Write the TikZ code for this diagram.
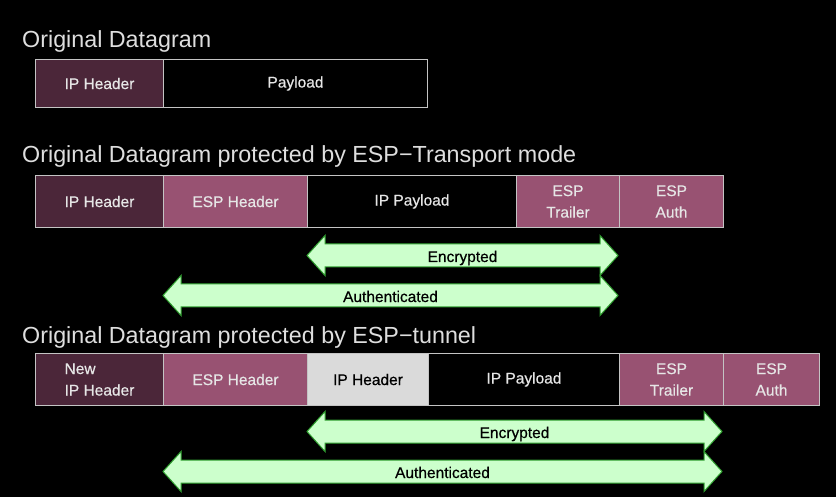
\documentclass[tikz,border=0pt]{standalone}
\usepackage{fontspec}
\setmainfont{Liberation Sans}
\newfontfamily\medfont{Liberation Sans}[FakeBold=0.5]
\definecolor{bgdark}{HTML}{4B2639}
\definecolor{bgpink}{HTML}{985272}
\definecolor{bggray}{HTML}{DADADA}
\definecolor{frame}{HTML}{C4C4C4}
\definecolor{txtl}{HTML}{E6E6E6}
\definecolor{ttl}{HTML}{DEDEDE}
\definecolor{arrfill}{HTML}{CCFFCC}
\definecolor{arrdraw}{HTML}{2E9E2E}
\tikzset{
  field/.style={draw=frame, line width=1pt, inner sep=0pt, anchor=north west, align=center,
    font=\medfont\fontsize{15.5}{21.5}\selectfont, text=txtl},
  ttlnode/.style={anchor=base west, inner sep=0pt, font=\fontsize{23.3}{28}\selectfont, text=ttl},
  arr/.style={fill=arrfill, draw=arrdraw, line width=1pt, line join=miter},
  albl/.style={inner sep=0pt, anchor=base, font=\medfont\fontsize{15.5}{18}\selectfont, text=black},
}
\newcommand\dblarr[5]{%
  \draw[arr] (#1,#3) -- (#1+18,#3-20) -- (#1+18,#3-11.5) -- (#2-18,#3-11.5) -- (#2-18,#3-20) -- (#2,#3)
    -- (#2-18,#3+20) -- (#2-18,#3+11.5) -- (#1+18,#3+11.5) -- (#1+18,#3+20) -- cycle;
  \node[albl] (#4) at ({(#1+#2)/2},#3+6.5) {#5};}
\begin{document}
\begin{tikzpicture}[x=1pt,y=-1pt]
\fill[black] (0,0) rectangle (836,497);
\useasboundingbox (0,0) rectangle (836,497);
% Row 1
\node[ttlnode] (t1) at (22,48) {Original Datagram};
\node[field, fill=bgdark, minimum width=128pt, minimum height=48pt] (r1ip) at (35,59) {IP Header};
\node[field, fill=black, minimum width=264pt, minimum height=48pt] (r1pl) at (163,59) {Payload};
% Row 2
\node[ttlnode] (t2) at (22,163) {Original Datagram protected by ESP\textminus Transport mode};
\node[field, fill=bgdark, minimum width=128pt, minimum height=52pt] (r2ip) at (35,175) {IP Header};
\node[field, fill=bgpink, minimum width=144pt, minimum height=52pt] (r2esp) at (163,175) {ESP Header};
\node[field, fill=black, minimum width=209pt, minimum height=52pt] (r2pl) at (307,175) {IP Payload};
\node[field, fill=bgpink, minimum width=103pt, minimum height=52pt] (r2tr) at (516,175) {ESP\\Trailer};
\node[field, fill=bgpink, minimum width=104pt, minimum height=52pt] (r2au) at (619,175) {ESP\\Auth};
\dblarr{307}{618}{255.5}{enc2}{Encrypted}
\dblarr{163}{618}{295.5}{aut2}{Authenticated}
% Row 3
\node[ttlnode] (t3) at (22,343) {Original Datagram protected by ESP\textminus tunnel};
\node[field, fill=bgdark, minimum width=128pt, minimum height=52pt, align=left] (r3nip) at (35,353) {New\\IP Header};
\node[field, fill=bgpink, minimum width=144pt, minimum height=52pt] (r3esp) at (163,353) {ESP Header};
\node[field, fill=bggray, text=black, minimum width=121pt, minimum height=52pt] (r3ip) at (307,353) {IP Header};
\node[field, fill=black, minimum width=191pt, minimum height=52pt] (r3pl) at (428,353) {IP Payload};
\node[field, fill=bgpink, minimum width=104pt, minimum height=52pt] (r3tr) at (619,353) {ESP\\Trailer};
\node[field, fill=bgpink, minimum width=96pt, minimum height=52pt] (r3au) at (723,353) {ESP\\Auth};
\dblarr{307}{722}{431.5}{enc3}{Encrypted}
\dblarr{163}{722}{471.5}{aut3}{Authenticated}
\end{tikzpicture}
\end{document}
